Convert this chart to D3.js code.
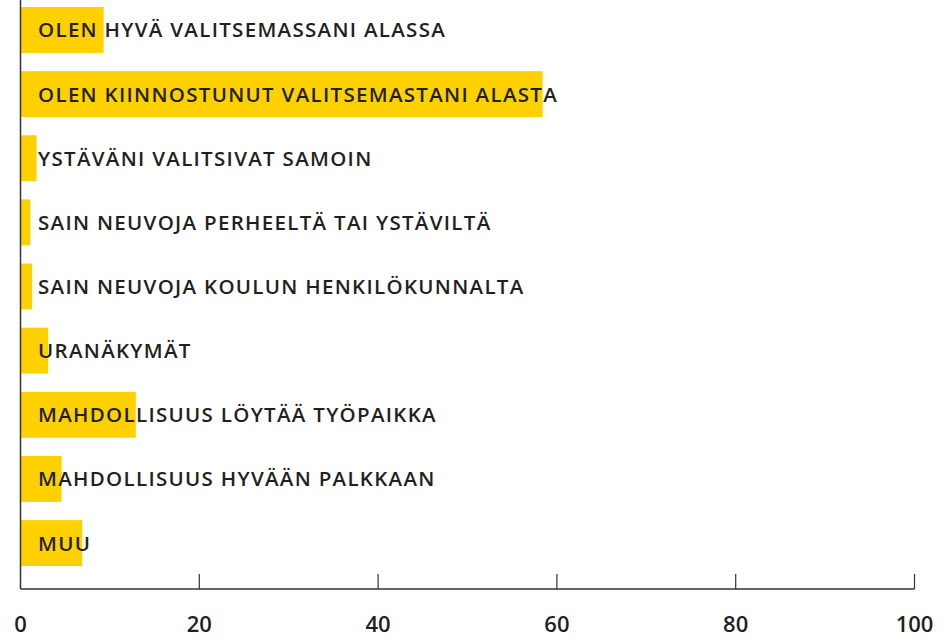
<!DOCTYPE html>
<html><head><meta charset="utf-8">
<script src="https://cdn.jsdelivr.net/npm/d3@7"></script>
<style>body{margin:0;background:#fff}svg{display:block}</style>
</head><body>
<script>
const categories = ["OLEN HYVÄ VALITSEMASSANI ALASSA","OLEN KIINNOSTUNUT VALITSEMASTANI ALASTA","YSTÄVÄNI VALITSIVAT SAMOIN","SAIN NEUVOJA PERHEELTÄ TAI YSTÄVILTÄ","SAIN NEUVOJA KOULUN HENKILÖKUNNALTA","URANÄKYMÄT","MAHDOLLISUUS LÖYTÄÄ TYÖPAIKKA","MAHDOLLISUUS HYVÄÄN PALKKAAN","MUU"];
const values = [9.3, 58.4, 1.8, 1.1, 1.3, 3.1, 12.9, 4.6, 6.9];
const ticks = [0, 20, 40, 60, 80, 100];

const W = 952, H = 639;
const svg = d3.select("body").append("svg").attr("width", W).attr("height", H);
const x = d3.scaleLinear().domain([0, 100]).range([20.5, 914.5]);
const y = d3.scaleBand().domain(categories).range([-2, 575]).paddingInner(0.284).paddingOuter(0.14);

svg.append("g").selectAll("rect").data(categories).join("rect")
  .attr("x", x(0)).attr("y", d => y(d))
  .attr("width", (d, i) => x(values[i]) - x(0)).attr("height", y.bandwidth())
  .attr("fill", "#FFD100");

svg.append("g").selectAll("text").data(categories).join("text")
  .attr("x", 38).attr("y", d => y(d) + y.bandwidth() / 2 + 7.5)
  .attr("font-family", "Open Sans").attr("font-weight", 600).attr("font-size", 20.5)
  .attr("letter-spacing", 1.3).attr("fill", "#231f20")
  .text(d => d);

svg.append("line").attr("x1", x(0)).attr("x2", x(100)).attr("y1", 589).attr("y2", 589).attr("stroke", "#333").attr("stroke-width", 1.5);
svg.append("line").attr("x1", x(0)).attr("x2", x(0)).attr("y1", 0).attr("y2", 589).attr("stroke", "#333").attr("stroke-width", 1.5);
svg.append("g").selectAll("line").data(ticks.slice(1)).join("line")
  .attr("x1", d => x(d)).attr("x2", d => x(d)).attr("y1", 574).attr("y2", 589)
  .attr("stroke", "#333").attr("stroke-width", 1.2);
svg.append("g").selectAll("text").data(ticks).join("text")
  .attr("x", d => x(d)).attr("y", 632)
  .attr("text-anchor", "middle")
  .attr("font-family", "Open Sans").attr("font-weight", 600).attr("font-size", 22)
  .attr("fill", "#231f20").text(d => d);
</script>
</body></html>
